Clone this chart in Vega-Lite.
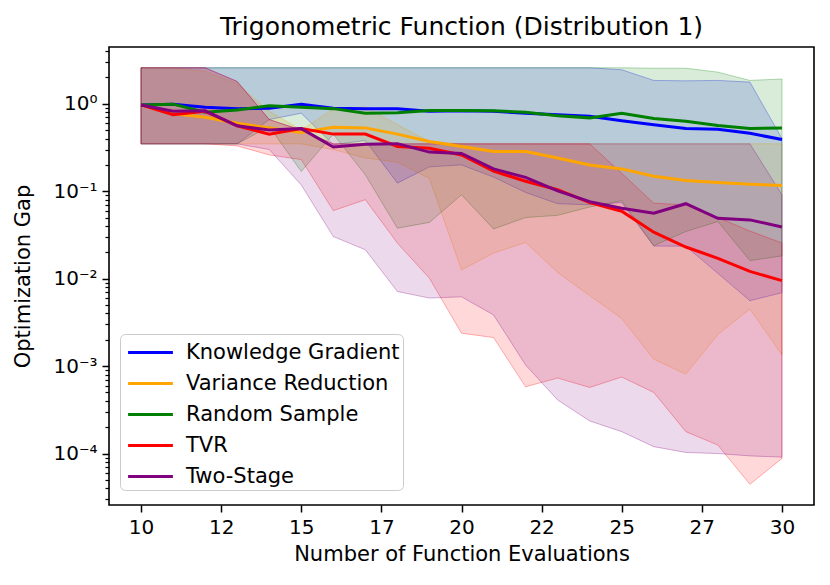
{
  "$schema": "https://vega.github.io/schema/vega-lite/v6.json",
  "width": 705,
  "height": 458,
  "autosize": "none",
  "padding": {"left": 109, "top": 47, "right": 16, "bottom": 80},
  "background": "white",
  "title": {
    "text": "Trigonometric Function (Distribution 1)",
    "font": "DejaVu Sans",
    "fontSize": 25,
    "fontWeight": "normal",
    "color": "black",
    "offset": 7
  },
  "config": {
    "view": {"stroke": "black", "strokeWidth": 1.6},
    "axis": {
      "domain": false,
      "grid": false,
      "tickColor": "black",
      "tickWidth": 1.5,
      "labelFont": "DejaVu Sans",
      "labelColor": "black",
      "labelFontSize": 20,
      "titleFont": "DejaVu Sans",
      "titleColor": "black",
      "titleFontSize": 21,
      "titleFontWeight": "normal"
    }
  },
  "data": {
    "values": [
      {"m": "Knowledge Gradient", "x": 10, "mean": 0.97, "lo": 0.348, "hi": 2.58},
      {"m": "Knowledge Gradient", "x": 11, "mean": 0.99, "lo": 0.348, "hi": 2.58},
      {"m": "Knowledge Gradient", "x": 12, "mean": 0.91, "lo": 0.348, "hi": 2.58},
      {"m": "Knowledge Gradient", "x": 13, "mean": 0.88, "lo": 0.348, "hi": 2.58},
      {"m": "Knowledge Gradient", "x": 14, "mean": 0.89, "lo": 0.66, "hi": 2.58},
      {"m": "Knowledge Gradient", "x": 15, "mean": 0.99, "lo": 0.78, "hi": 2.58},
      {"m": "Knowledge Gradient", "x": 16, "mean": 0.89, "lo": 0.34, "hi": 2.58},
      {"m": "Knowledge Gradient", "x": 17, "mean": 0.88, "lo": 0.38, "hi": 2.58},
      {"m": "Knowledge Gradient", "x": 18, "mean": 0.88, "lo": 0.124, "hi": 2.58},
      {"m": "Knowledge Gradient", "x": 19, "mean": 0.82, "lo": 0.19, "hi": 2.58},
      {"m": "Knowledge Gradient", "x": 20, "mean": 0.83, "lo": 0.2, "hi": 2.58},
      {"m": "Knowledge Gradient", "x": 21, "mean": 0.82, "lo": 0.145, "hi": 2.58},
      {"m": "Knowledge Gradient", "x": 22, "mean": 0.78, "lo": 0.097, "hi": 2.58},
      {"m": "Knowledge Gradient", "x": 23, "mean": 0.75, "lo": 0.072, "hi": 2.58},
      {"m": "Knowledge Gradient", "x": 24, "mean": 0.72, "lo": 0.07, "hi": 2.58},
      {"m": "Knowledge Gradient", "x": 25, "mean": 0.64, "lo": 0.074, "hi": 2.45},
      {"m": "Knowledge Gradient", "x": 26, "mean": 0.575, "lo": 0.0236, "hi": 1.85},
      {"m": "Knowledge Gradient", "x": 27, "mean": 0.52, "lo": 0.0235, "hi": 1.83},
      {"m": "Knowledge Gradient", "x": 28, "mean": 0.51, "lo": 0.0115, "hi": 1.85},
      {"m": "Knowledge Gradient", "x": 29, "mean": 0.46, "lo": 0.0056, "hi": 1.77},
      {"m": "Knowledge Gradient", "x": 30, "mean": 0.39, "lo": 0.0069, "hi": 0.4},
      {"m": "Variance Reduction", "x": 10, "mean": 0.97, "lo": 0.348, "hi": 2.58},
      {"m": "Variance Reduction", "x": 11, "mean": 0.77, "lo": 0.348, "hi": 2.58},
      {"m": "Variance Reduction", "x": 12, "mean": 0.7, "lo": 0.348, "hi": 2.35},
      {"m": "Variance Reduction", "x": 13, "mean": 0.6, "lo": 0.348, "hi": 1.7},
      {"m": "Variance Reduction", "x": 14, "mean": 0.53, "lo": 0.348, "hi": 0.82},
      {"m": "Variance Reduction", "x": 15, "mean": 0.47, "lo": 0.348, "hi": 0.5},
      {"m": "Variance Reduction", "x": 16, "mean": 0.54, "lo": 0.3, "hi": 0.87},
      {"m": "Variance Reduction", "x": 17, "mean": 0.53, "lo": 0.24, "hi": 0.92},
      {"m": "Variance Reduction", "x": 18, "mean": 0.45, "lo": 0.215, "hi": 0.575},
      {"m": "Variance Reduction", "x": 19, "mean": 0.37, "lo": 0.14, "hi": 0.37},
      {"m": "Variance Reduction", "x": 20, "mean": 0.325, "lo": 0.0126, "hi": 0.348},
      {"m": "Variance Reduction", "x": 21, "mean": 0.285, "lo": 0.0196, "hi": 0.348},
      {"m": "Variance Reduction", "x": 22, "mean": 0.285, "lo": 0.026, "hi": 0.348},
      {"m": "Variance Reduction", "x": 23, "mean": 0.24, "lo": 0.0118, "hi": 0.348},
      {"m": "Variance Reduction", "x": 24, "mean": 0.2, "lo": 0.0064, "hi": 0.348},
      {"m": "Variance Reduction", "x": 25, "mean": 0.18, "lo": 0.0035, "hi": 0.348},
      {"m": "Variance Reduction", "x": 26, "mean": 0.148, "lo": 0.0012, "hi": 0.348},
      {"m": "Variance Reduction", "x": 27, "mean": 0.133, "lo": 0.00081, "hi": 0.348},
      {"m": "Variance Reduction", "x": 28, "mean": 0.126, "lo": 0.0023, "hi": 0.348},
      {"m": "Variance Reduction", "x": 29, "mean": 0.12, "lo": 0.0045, "hi": 0.348},
      {"m": "Variance Reduction", "x": 30, "mean": 0.116, "lo": 0.00134, "hi": 0.348},
      {"m": "Random Sample", "x": 10, "mean": 0.97, "lo": 0.348, "hi": 2.58},
      {"m": "Random Sample", "x": 11, "mean": 0.99, "lo": 0.348, "hi": 2.58},
      {"m": "Random Sample", "x": 12, "mean": 0.8, "lo": 0.348, "hi": 2.58},
      {"m": "Random Sample", "x": 13, "mean": 0.85, "lo": 0.348, "hi": 2.58},
      {"m": "Random Sample", "x": 14, "mean": 0.95, "lo": 0.55, "hi": 2.58},
      {"m": "Random Sample", "x": 15, "mean": 0.91, "lo": 0.168, "hi": 2.58},
      {"m": "Random Sample", "x": 16, "mean": 0.88, "lo": 0.45, "hi": 2.58},
      {"m": "Random Sample", "x": 17, "mean": 0.78, "lo": 0.154, "hi": 2.58},
      {"m": "Random Sample", "x": 18, "mean": 0.79, "lo": 0.0378, "hi": 2.58},
      {"m": "Random Sample", "x": 19, "mean": 0.84, "lo": 0.044, "hi": 2.58},
      {"m": "Random Sample", "x": 20, "mean": 0.84, "lo": 0.091, "hi": 2.58},
      {"m": "Random Sample", "x": 21, "mean": 0.83, "lo": 0.037, "hi": 2.58},
      {"m": "Random Sample", "x": 22, "mean": 0.8, "lo": 0.05, "hi": 2.58},
      {"m": "Random Sample", "x": 23, "mean": 0.73, "lo": 0.053, "hi": 2.58},
      {"m": "Random Sample", "x": 24, "mean": 0.69, "lo": 0.066, "hi": 2.58},
      {"m": "Random Sample", "x": 25, "mean": 0.78, "lo": 0.078, "hi": 2.58},
      {"m": "Random Sample", "x": 26, "mean": 0.68, "lo": 0.0238, "hi": 2.55},
      {"m": "Random Sample", "x": 27, "mean": 0.63, "lo": 0.0346, "hi": 2.55},
      {"m": "Random Sample", "x": 28, "mean": 0.565, "lo": 0.045, "hi": 2.3},
      {"m": "Random Sample", "x": 29, "mean": 0.52, "lo": 0.0161, "hi": 1.85},
      {"m": "Random Sample", "x": 30, "mean": 0.53, "lo": 0.0182, "hi": 1.92},
      {"m": "TVR", "x": 10, "mean": 0.97, "lo": 0.348, "hi": 2.58},
      {"m": "TVR", "x": 11, "mean": 0.75, "lo": 0.348, "hi": 2.58},
      {"m": "TVR", "x": 12, "mean": 0.82, "lo": 0.348, "hi": 2.58},
      {"m": "TVR", "x": 13, "mean": 0.56, "lo": 0.33, "hi": 1.8},
      {"m": "TVR", "x": 14, "mean": 0.45, "lo": 0.26, "hi": 0.66},
      {"m": "TVR", "x": 15, "mean": 0.52, "lo": 0.23, "hi": 0.5},
      {"m": "TVR", "x": 16, "mean": 0.45, "lo": 0.06, "hi": 0.348},
      {"m": "TVR", "x": 17, "mean": 0.45, "lo": 0.08, "hi": 0.348},
      {"m": "TVR", "x": 18, "mean": 0.325, "lo": 0.0255, "hi": 0.348},
      {"m": "TVR", "x": 19, "mean": 0.31, "lo": 0.0101, "hi": 0.348},
      {"m": "TVR", "x": 20, "mean": 0.26, "lo": 0.00238, "hi": 0.348},
      {"m": "TVR", "x": 21, "mean": 0.17, "lo": 0.00212, "hi": 0.348},
      {"m": "TVR", "x": 22, "mean": 0.13, "lo": 0.00058, "hi": 0.348},
      {"m": "TVR", "x": 23, "mean": 0.104, "lo": 0.00073, "hi": 0.348},
      {"m": "TVR", "x": 24, "mean": 0.074, "lo": 0.00057, "hi": 0.348},
      {"m": "TVR", "x": 25, "mean": 0.059, "lo": 0.00075, "hi": 0.16},
      {"m": "TVR", "x": 26, "mean": 0.034, "lo": 0.0005, "hi": 0.073},
      {"m": "TVR", "x": 27, "mean": 0.023, "lo": 0.000178, "hi": 0.07},
      {"m": "TVR", "x": 28, "mean": 0.0171, "lo": 0.000125, "hi": 0.05},
      {"m": "TVR", "x": 29, "mean": 0.0121, "lo": 0.0000445, "hi": 0.035},
      {"m": "TVR", "x": 30, "mean": 0.0095, "lo": 0.000088, "hi": 0.0256},
      {"m": "Two-Stage", "x": 10, "mean": 0.97, "lo": 0.348, "hi": 2.58},
      {"m": "Two-Stage", "x": 11, "mean": 0.82, "lo": 0.348, "hi": 2.58},
      {"m": "Two-Stage", "x": 12, "mean": 0.83, "lo": 0.348, "hi": 2.58},
      {"m": "Two-Stage", "x": 13, "mean": 0.56, "lo": 0.348, "hi": 1.8},
      {"m": "Two-Stage", "x": 14, "mean": 0.5, "lo": 0.3, "hi": 0.66},
      {"m": "Two-Stage", "x": 15, "mean": 0.52, "lo": 0.118, "hi": 0.5},
      {"m": "Two-Stage", "x": 16, "mean": 0.32, "lo": 0.0303, "hi": 0.348},
      {"m": "Two-Stage", "x": 17, "mean": 0.345, "lo": 0.0214, "hi": 0.348},
      {"m": "Two-Stage", "x": 18, "mean": 0.35, "lo": 0.00713, "hi": 0.348},
      {"m": "Two-Stage", "x": 19, "mean": 0.28, "lo": 0.006, "hi": 0.348},
      {"m": "Two-Stage", "x": 20, "mean": 0.27, "lo": 0.0062, "hi": 0.348},
      {"m": "Two-Stage", "x": 21, "mean": 0.18, "lo": 0.00385, "hi": 0.348},
      {"m": "Two-Stage", "x": 22, "mean": 0.144, "lo": 0.00103, "hi": 0.348},
      {"m": "Two-Stage", "x": 23, "mean": 0.101, "lo": 0.00041, "hi": 0.348},
      {"m": "Two-Stage", "x": 24, "mean": 0.076, "lo": 0.000236, "hi": 0.348},
      {"m": "Two-Stage", "x": 25, "mean": 0.064, "lo": 0.000178, "hi": 0.348},
      {"m": "Two-Stage", "x": 26, "mean": 0.056, "lo": 0.00012, "hi": 0.348},
      {"m": "Two-Stage", "x": 27, "mean": 0.072, "lo": 0.000103, "hi": 0.348},
      {"m": "Two-Stage", "x": 28, "mean": 0.049, "lo": 0.0001, "hi": 0.348},
      {"m": "Two-Stage", "x": 29, "mean": 0.047, "lo": 0.000094, "hi": 0.348},
      {"m": "Two-Stage", "x": 30, "mean": 0.039, "lo": 0.000091, "hi": 0.091}
    ]
  },
  "encoding": {
    "x": {
      "field": "x",
      "type": "quantitative",
      "scale": {"domain": [9, 31], "nice": false, "zero": false},
      "axis": {
        "values": [10, 12.5, 15, 17.5, 20, 22.5, 25, 27.5, 30],
        "labelExpr": "'' + floor(datum.value)",
        "tickSize": 7,
        "labelPadding": 5,
        "title": "Number of Function Evaluations",
        "titlePadding": 6
      }
    }
  },
  "layer": [
    {
      "mark": {"type": "area", "fillOpacity": 0.15, "strokeOpacity": 0.3, "strokeWidth": 1},
      "encoding": {
        "y": {
          "field": "lo",
          "type": "quantitative",
          "stack": null,
          "scale": {"type": "log", "domain": [0.0000258, 4.46], "nice": false},
          "axis": {
            "values": [0.0001, 0.001, 0.01, 0.1, 1],
            "labelExpr": "'10' + (datum.value < 0.5 ? '⁻' + ['', '¹', '²', '³', '⁴'][round(-log(datum.value) / LN10)] : '⁰')",
            "tickSize": 7,
            "labelPadding": 5,
            "title": "Optimization Gap",
            "titlePadding": 19
          }
        },
        "y2": {"field": "hi"},
        "fill": {
          "field": "m",
          "type": "nominal",
          "scale": {
            "domain": ["Knowledge Gradient", "Variance Reduction", "Random Sample", "TVR", "Two-Stage"],
            "range": ["#0000ff", "#ffa500", "#008000", "#ff0000", "#800080"]
          }
        },
        "stroke": {
          "field": "m",
          "type": "nominal",
          "scale": {
            "domain": ["Knowledge Gradient", "Variance Reduction", "Random Sample", "TVR", "Two-Stage"],
            "range": ["#0000ff", "#ffa500", "#008000", "#ff0000", "#800080"]
          }
        }
      }
    },
    {
      "mark": {"type": "line", "strokeWidth": 3},
      "encoding": {
        "y": {
          "field": "mean",
          "type": "quantitative",
          "axis": {
            "values": [0.00003, 0.00004, 0.00005, 0.00006, 0.00007, 0.00008, 0.00009, 0.0002, 0.0003, 0.0004, 0.0005, 0.0006, 0.0007, 0.0008, 0.0009, 0.002, 0.003, 0.004, 0.005, 0.006, 0.007, 0.008, 0.009, 0.02, 0.03, 0.04, 0.05, 0.06, 0.07, 0.08, 0.09, 0.2, 0.3, 0.4, 0.5, 0.6, 0.7, 0.8, 0.9, 2, 3, 4],
            "labels": false,
            "tickSize": 4,
            "tickWidth": 1.2,
            "title": null,
            "orient": "left"
          }
        },
        "color": {
          "field": "m",
          "type": "nominal",
          "scale": {
            "domain": ["Knowledge Gradient", "Variance Reduction", "Random Sample", "TVR", "Two-Stage"],
            "range": ["#0000ff", "#ffa500", "#008000", "#ff0000", "#800080"]
          },
          "legend": {
            "title": null,
            "orient": "none",
            "legendX": 11,
            "legendY": 287,
            "direction": "vertical",
            "fillColor": "rgba(255,255,255,0.8)",
            "strokeColor": "#cccccc",
            "cornerRadius": 5,
            "padding": 3,
            "labelFont": "DejaVu Sans",
            "labelFontSize": 21,
            "labelColor": "black",
            "labelOffset": 20,
            "labelLimit": 400,
            "symbolType": "M-1.6,0H1.6",
            "symbolSize": 784,
            "symbolOffset": 12,
            "symbolStrokeWidth": 3,
            "symbolOpacity": 1,
            "symbolFillColor": "transparent",
            "rowPadding": 5
          }
        }
      }
    }
  ],
  "resolve": {"axis": {"y": "independent"}}
}
